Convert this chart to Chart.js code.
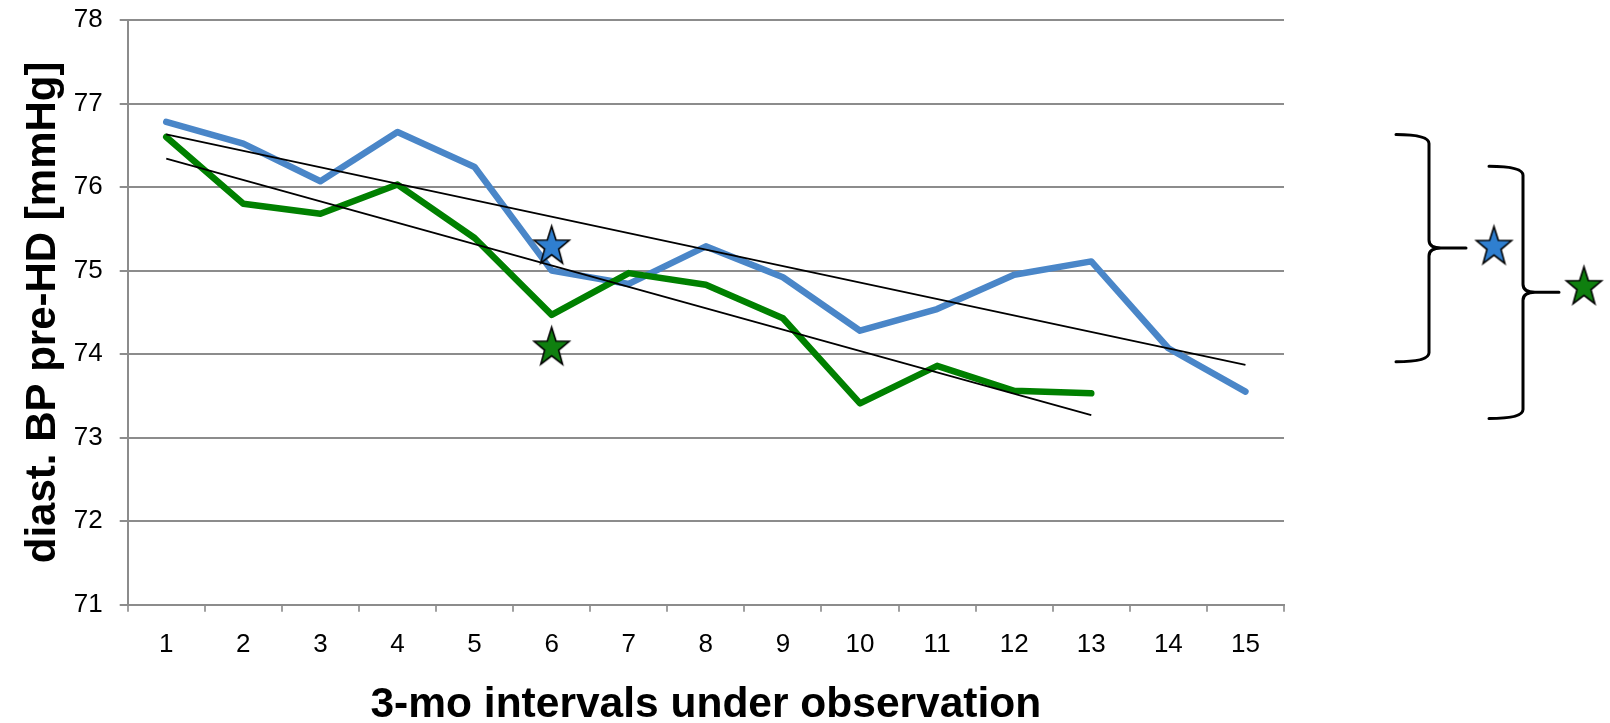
<!DOCTYPE html>
<html>
<head>
<meta charset="utf-8">
<script src="https://cdn.jsdelivr.net/npm/chart.js@4"></script>
<style>
  html, body { margin: 0; padding: 0; background: #fff; }
  #wrap { width: 1610px; height: 723px; }
</style>
</head>
<body>
<div id="wrap"><canvas id="bp" width="1610" height="723"></canvas></div>
<script>
const intervals = ['1', '2', '3', '4', '5', '6', '7', '8', '9', '10', '11', '12', '13', '14', '15'];
const bluePre = [76.78, 76.52, 76.07, 76.66, 76.24, 75.0, 74.84, 75.29, 74.92, 74.28, 74.54, 74.95, 75.11, 74.07, 73.55];
const greenPre = [76.6, 75.8, 75.68, 76.03, 75.39, 74.47, 74.97, 74.83, 74.43, 73.41, 73.86, 73.56, 73.53, null, null];
const blueTrend = [76.63, null, null, null, null, null, null, null, null, null, null, null, null, null, 73.87];
const greenTrend = [76.34, null, null, null, null, null, null, null, null, null, null, null, 73.27, null, null];
const blueStar = [null, null, null, null, null, 75.31, null, null, null, null, null, null, null, null, null];
const greenStar = [null, null, null, null, null, 74.1, null, null, null, null, null, null, null, null, null];
// range of each curly brace on the right (top, bottom) in mmHg
const blueBrace = [76.63, 73.91];
const greenBrace = [76.25, 73.23];
const yTicks = [71, 72, 73, 74, 75, 76, 77, 78];

const C = {
  blue: '#4a86c8',
  green: '#008000',
  starBlue: '#2f7fd0',
  starGreen: '#0f7f0f',
  grid: '#8c8c8c',
  tick: '#a0a0a0',
};

function makeStar(fill, r) {
  const c = document.createElement('canvas');
  const w = Math.ceil(r * 2 + 4), h = Math.ceil(r * 2.2 + 4);
  c.width = w;
  c.height = h;
  const g = c.getContext('2d');
  const cx = w / 2, cy = h / 2 + r * 0.1;
  g.beginPath();
  for (let i = 0; i < 10; i++) {
    const rr = i % 2 ? r * 0.4 : r;
    const a = -Math.PI / 2 + (i * Math.PI) / 5;
    const x = cx + rr * Math.cos(a), y = cy + rr * 1.1 * Math.sin(a);
    if (i) g.lineTo(x, y); else g.moveTo(x, y);
  }
  g.closePath();
  g.fillStyle = fill;
  g.fill();
  g.lineWidth = 1.6;
  g.strokeStyle = '#000';
  g.stroke();
  return c;
}

const starB = makeStar(C.starBlue, 18.5);
const starG = makeStar(C.starGreen, 18.5);

function drawBrace(ctx, x0, x1, xTip, yTop, yBot) {
  const yMid = (yTop + yBot) / 2;
  ctx.beginPath();
  ctx.moveTo(x0, yTop);
  ctx.quadraticCurveTo(x1, yTop, x1, yTop + 9);
  ctx.lineTo(x1, yMid - 8);
  ctx.quadraticCurveTo(x1, yMid, x1 + 12, yMid);
  ctx.lineTo(xTip, yMid);
  ctx.moveTo(x1 + 12, yMid);
  ctx.quadraticCurveTo(x1, yMid, x1, yMid + 8);
  ctx.lineTo(x1, yBot - 9);
  ctx.quadraticCurveTo(x1, yBot, x0, yBot);
  ctx.stroke();
}

const bracePlugin = {
  id: 'braces',
  afterDraw(chart) {
    const { ctx, chartArea } = chart;
    const y = chart.scales.y;
    const r = chartArea.right;
    ctx.save();
    ctx.strokeStyle = '#000';
    ctx.lineWidth = 3;
    ctx.lineCap = 'round';
    const b = [y.getPixelForValue(blueBrace[0]), y.getPixelForValue(blueBrace[1])];
    const g = [y.getPixelForValue(greenBrace[0]), y.getPixelForValue(greenBrace[1])];
    drawBrace(ctx, r + 112, r + 145, r + 182, b[0], b[1]);
    drawBrace(ctx, r + 205, r + 239, r + 275, g[0], g[1]);
    ctx.drawImage(starB, r + 210 - starB.width / 2, (b[0] + b[1]) / 2 - 3 - starB.height / 2);
    ctx.drawImage(starG, r + 300 - starG.width / 2, (g[0] + g[1]) / 2 - 7 - starG.height / 2);
    ctx.restore();
  },
};

new Chart(document.getElementById('bp'), {
  type: 'line',
  data: {
    labels: intervals,
    datasets: [
      { data: blueTrend, borderColor: '#000', borderWidth: 1.8, pointRadius: 0, spanGaps: true, order: 1 },
      { data: greenTrend, borderColor: '#000', borderWidth: 1.8, pointRadius: 0, spanGaps: true, order: 1 },
      { data: bluePre, borderColor: C.blue, borderWidth: 6.5, pointRadius: 0, borderCapStyle: 'round', borderJoinStyle: 'round', order: 3 },
      { data: greenPre, borderColor: C.green, borderWidth: 6.5, pointRadius: 0, borderCapStyle: 'round', borderJoinStyle: 'round', order: 2 },
      { data: blueStar, showLine: false, pointStyle: starB, pointRadius: 19, order: 0 },
      { data: greenStar, showLine: false, pointStyle: starG, pointRadius: 19, order: 0 },
    ],
  },
  options: {
    responsive: false,
    animation: false,
    layout: { padding: { left: 0, right: 326, top: 16.7, bottom: 0 } },
    plugins: { legend: { display: false }, tooltip: { enabled: false } },
    scales: {
      x: {
        offset: true,
        afterFit: (s) => { s.height = 118.3; },
        grid: { offset: true, drawOnChartArea: false, tickLength: 7, color: C.tick, lineWidth: 2 },
        border: { color: C.grid, width: 2 },
        ticks: { color: '#000', font: { family: 'Liberation Sans', size: 26 }, padding: 18, maxRotation: 0 },
        title: {
          display: true,
          text: '3-mo intervals under observation',
          color: '#000',
          font: { family: 'Liberation Sans', size: 42.5, weight: 'bold', lineHeight: 1 },
          padding: { top: 0, bottom: -4 },
        },
      },
      y: {
        min: 71,
        max: 78,
        afterFit: (s) => { s.width = 127.7; s.paddingTop = 0; s.paddingBottom = 0; },
        afterBuildTicks: (s) => { s.ticks = yTicks.map((v) => ({ value: v })); },
        grid: { color: C.grid, lineWidth: 2, tickLength: 8 },
        border: { color: C.grid, width: 2 },
        ticks: { color: '#000', font: { family: 'Liberation Sans', size: 26 }, padding: 17 },
        title: {
          display: true,
          text: 'diast. BP pre-HD [mmHg]',
          color: '#000',
          font: { family: 'Liberation Sans', size: 42, weight: 'bold', lineHeight: 1 },
          padding: { top: 22, bottom: 0 },
        },
      },
    },
  },
  plugins: [bracePlugin],
});
</script>
</body>
</html>
